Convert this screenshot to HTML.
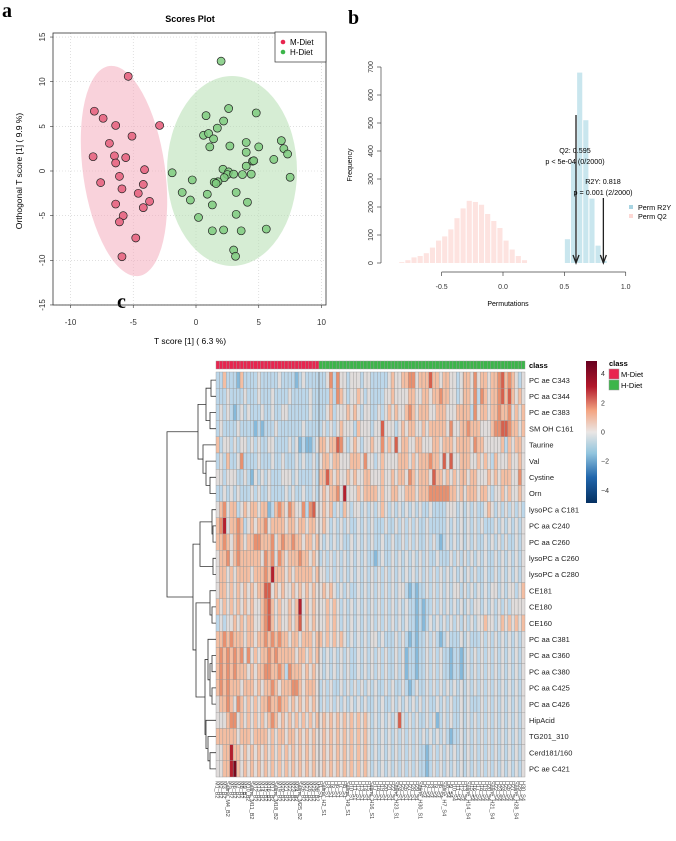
<!DOCTYPE html>
<html><head><meta charset="utf-8"><style>
body{margin:0;background:#fff;}
svg{display:block;font-family:"Liberation Sans",sans-serif;}
.lbl{font-family:"Liberation Serif",serif;font-weight:bold;font-size:20px;}
</style></head><body>
<svg id="fig" width="676" height="841" viewBox="0 0 676 841" xmlns="http://www.w3.org/2000/svg">
<text class="lbl" x="2" y="17">a</text>
<text class="lbl" x="348" y="24">b</text>
<text class="lbl" x="117" y="308">c</text>
<g id="pa"></g>
<g id="pb"></g>
<g id="pc"></g>
</svg>
<script>
// ---------- Panel a data ----------
const mX=[-5.4,-8.1,-7.4,-6.4,-2.9,-5.1,-6.9,-8.2,-6.5,-5.6,-6.4,-4.1,-6.1,-7.6,-4.2,-5.9,-4.6,-3.7,-6.4,-4.2,-5.8,-6.1,-4.8,-5.9];
const mY=[10.6,6.7,5.9,5.1,5.1,3.9,3.1,1.6,1.7,1.5,0.9,0.15,-0.6,-1.3,-1.5,-2.0,-2.5,-3.4,-3.7,-4.1,-5.0,-5.7,-7.5,-9.6];
const hX=[2.0,2.6,4.8,0.8,2.2,1.7,0.6,1.0,1.4,4.0,6.8,1.1,2.7,5.0,7.0,4.0,7.3,6.2,4.5,4.6,4.0,2.15,-1.9,2.6,2.5,3.0,3.7,4.4,7.5,2.25,-0.3,1.75,1.45,1.6,-1.1,3.2,0.9,-0.45,4.1,1.3,3.2,0.2,1.3,2.2,3.6,5.6,3.0,3.15];
const hY=[12.3,7.0,6.5,6.2,5.6,4.8,4.0,4.2,3.6,3.2,3.4,2.7,2.8,2.7,2.5,2.1,1.9,1.3,1.1,1.15,0.55,0.2,-0.2,-0.1,-0.4,-0.35,-0.4,-0.35,-0.7,-0.75,-1.0,-1.2,-1.25,-1.4,-2.4,-2.4,-2.6,-3.25,-3.5,-3.8,-4.85,-5.2,-6.7,-6.6,-6.7,-6.5,-8.85,-9.55];
const aTicks=[-15,-10,-5,0,5,10,15];
// ---------- Panel b data ----------
const q2Bins=[-0.85,-0.8,-0.75,-0.7,-0.65,-0.6,-0.55,-0.5,-0.45,-0.4,-0.35,-0.3,-0.25,-0.2,-0.15,-0.1,-0.05,0.0,0.05,0.1,0.15];
const q2Counts=[3,10,20,25,35,55,80,95,120,160,195,222,218,208,175,150,125,80,48,25,10];
const r2Bins=[0.5,0.55,0.6,0.65,0.7,0.75,0.8];
const r2Counts=[85,360,680,510,230,62,8];
const bXTicks=[-0.5,0.0,0.5,1.0];
const bYTicks=[0,100,200,300,400,500,600,700];
// ---------- Panel c data ----------
const rowNames=["PC ae C343","PC aa C344","PC ae C383","SM OH C161","Taurine","Val","Cystine","Orn","lysoPC a C181","PC aa C240","PC aa C260","lysoPC a C260","lysoPC a C280","CE181","CE180","CE160","PC aa C381","PC aa C360","PC aa C380","PC aa C425","PC aa C426","HipAcid","TG201_310","Cerd181/160","PC ae C421"];
const heat=[
"4464443644 4454444454 4443454444 4457475545 5545544444 5655667756 6686656655 4566575665 6678676545",
"4445444454 4454445444 4544444544 4446476545 5654544445 5655556655 6656676655 4566574765 6678686565",
"4545434545 4445445445 5444444544 4456455565 6545544545 6565567656 6655666555 6666475665 6676675656",
"4544445444 4343444544 4444454444 4545456555 4655545585 5545656655 6566666575 5667666555 6778876656",
"6455454554 5454455444 4545343345 6656687545 6545565575 6585665566 5556656665 6666576655 5556465665",
"4546445744 4454445445 4445454454 5665665556 6657554565 5556665656 6676658585 5666556565 4655565565",
"5545554454 3545454445 5545444454 6686565565 6556655565 5656657656 6658665656 5665665556 5656665575",
"4454545444 5454454444 5454454454 5656675955 5656666565 5665566656 6677777766 5656665665 4556565565",
"5675664565 6656634676 5765574785 5656454654 5545454565 4545454545 4454444555 4545454456 5454545454",
"6795667645 6566756666 5665665665 5654545454 4545454445 4454545454 4544444545 4545454544 4545454545",
"6676567656 6776667567 6676656656 5454545445 4545454454 4544545454 4545434545 4545454454 5454544545",
"5667567666 6665767576 5666766565 4545454545 4545443454 4545454545 4544544454 5454545454 4545454545",
"5665656666 5666769666 5656666656 5545454545 4545454545 4545454545 4545454545 4545454454 4545454545",
"5665656565 6566885656 5565656565 5656545454 4545454545 4545543434 4545454545 5454545454 5545455456",
"6565656565 6556786565 5656956565 5565654545 4545454545 4545454434 3445454545 4545455454 5454545555",
"4545565656 6556786565 5656856565 5565654545 4545454545 4545454434 3454545454 5454545565 5456565656",
"6676766656 6566767676 6566566656 6565656545 4545455454 4454543434 4545434544 4545444545 4545454545",
"6767676757 5656676766 6665665656 5454545454 4545454545 4454534434 4545454434 4345454545 4545454545",
"6767676665 6566776676 4766656565 5454545454 4545454545 4454534434 4545454434 4345454545 4545454545",
"6767666566 6565667656 6677656665 4545445454 5454545445 4544543454 4545454545 4545454545 4545454545",
"5667657656 5656676676 6565656565 4545454545 4545445454 4545454545 4544545454 4545444545 4545454545",
"5556775656 5656567656 5656565656 5656565656 5656545454 5458545454 4545345454 4545454545 4545454545",
"6666665666 5666656566 5665656565 5656565656 5656545454 5454545454 5454545434 4545454545 4545454545",
"5566966565 6565656565 6565656565 5656565656 5656545454 5454545454 4345454545 4545454545 4545454545",
"5566906565 6565656565 6565656565 5656565656 5656545454 5454545454 4345454545 4545454545 4545454545"
];
const nM=30, nH=60;
const cbTicks=[4,2,0,-2,-4];

const NS="http://www.w3.org/2000/svg";
function mk(parent,tag,attrs,text){const e=document.createElementNS(NS,tag);for(const k in attrs)e.setAttribute(k,attrs[k]);if(text!==undefined)e.textContent=text;parent.appendChild(e);return e;}

// ===== Panel a =====
(function(){
const g=document.getElementById('pa');
const sx=v=>196+v*12.55, sy=v=>171-v*8.93;
mk(g,'text',{x:190,y:22,'text-anchor':'middle','font-size':9,'font-weight':'bold'},'Scores Plot');
aTicks.forEach(t=>{
 if(Math.abs(t)<=10){const l=mk(g,'line',{x1:sx(t),x2:sx(t),y1:33,y2:305,stroke:'#ccc','stroke-dasharray':'1,2','stroke-width':0.6});
 
 const tl=mk(g,'text',{x:sx(t),y:325,'text-anchor':'middle','font-size':8,fill:'#333'},String(t));
 }
 const l2=mk(g,'line',{x1:53,x2:326,y1:sy(t),y2:sy(t),stroke:'#ccc','stroke-dasharray':'1,2','stroke-width':0.6});
 
 const yl=mk(g,'text',{x:0,y:0,transform:`translate(45,${sy(t)}) rotate(-90)`,'text-anchor':'middle','font-size':8,fill:'#333'},String(t));
 
 mk(g,'line',{x1:50,x2:53,y1:sy(t),y2:sy(t),stroke:'#333','stroke-width':0.6});
 if(Math.abs(t)<=10)mk(g,'line',{x1:sx(t),x2:sx(t),y1:305,y2:308,stroke:'#333','stroke-width':0.6});
});
const e1=mk(g,'ellipse',{cx:124,cy:171,rx:41,ry:106,fill:'#f4a6b7','fill-opacity':0.5,transform:'rotate(-8 124 171)'});

const e2=mk(g,'ellipse',{cx:232,cy:171,rx:65,ry:95,fill:'#b5dfb0','fill-opacity':0.55});

mX.forEach((v,i)=>{const c=mk(g,'circle',{cx:sx(v),cy:sy(mY[i]),r:4,fill:'#e8708a',stroke:'#222','stroke-width':0.7});
 });
hX.forEach((v,i)=>{const c=mk(g,'circle',{cx:sx(v),cy:sy(hY[i]),r:4,fill:'#7fcb7f','fill-opacity':0.85,stroke:'#222','stroke-width':0.7});
 });
mk(g,'rect',{x:53,y:33,width:273,height:272,fill:'none',stroke:'#333','stroke-width':0.8});
const lg=mk(g,'g',{});
mk(lg,'rect',{x:275,y:32,width:51,height:30,fill:'#fff',stroke:'#333','stroke-width':0.7});
mk(lg,'circle',{cx:283,cy:42,r:2.3,fill:'#e8254f'});
mk(lg,'text',{x:290,y:45,'font-size':8},'M-Diet');
mk(lg,'circle',{cx:283,cy:52,r:2.3,fill:'#3cb54a'});
mk(lg,'text',{x:290,y:55,'font-size':8},'H-Diet');
const xt=mk(g,'text',{x:190,y:344,'text-anchor':'middle','font-size':8.5},'T score [1] ( 6.3 %)');

const yt=mk(g,'text',{x:0,y:0,transform:'translate(22,171) rotate(-90)','text-anchor':'middle','font-size':8.5},'Orthogonal T score [1] ( 9.9 %)');

})();

// ===== Panel b =====
(function(){
const g=document.getElementById('pb');
const sx=v=>503+v*122.7, sy=v=>263-v*0.28, bw=0.05;
q2Counts.forEach((c,i)=>{const r=mk(g,'rect',{x:sx(q2Bins[i])+0.5,y:sy(c),width:bw*122.7-1,height:c*0.28,fill:'#fde3e0'});
 });
r2Counts.forEach((c,i)=>{const r=mk(g,'rect',{x:sx(r2Bins[i])+0.5,y:sy(c),width:bw*122.7-1,height:c*0.28,fill:'#c9e6ee'});
 });
mk(g,'line',{x1:381,x2:381,y1:sy(0),y2:sy(700),stroke:'#444','stroke-width':0.7});
bYTicks.forEach(t=>{mk(g,'line',{x1:377,x2:381,y1:sy(t),y2:sy(t),stroke:'#444','stroke-width':0.7});
 const tl=mk(g,'text',{x:0,y:0,transform:`translate(373,${sy(t)}) rotate(-90)`,'text-anchor':'middle','font-size':7,fill:'#333'},String(t));
 });
mk(g,'line',{x1:sx(-0.5),x2:sx(1.0),y1:272,y2:272,stroke:'#444','stroke-width':0.7});
bXTicks.forEach(t=>{mk(g,'line',{x1:sx(t),x2:sx(t),y1:272,y2:276,stroke:'#444','stroke-width':0.7});
 const tl=mk(g,'text',{x:sx(t),y:289,'text-anchor':'middle','font-size':7,fill:'#333'},t.toFixed(1));
 });
const xt=mk(g,'text',{x:508,y:306,'text-anchor':'middle','font-size':7},'Permutations');

const yt=mk(g,'text',{x:0,y:0,transform:'translate(352,165) rotate(-90)','text-anchor':'middle','font-size':7},'Frequency');

function arrow(v,y1,name){const a=mk(g,'g',{});
 mk(a,'line',{x1:sx(v),x2:sx(v),y1:y1,y2:262,stroke:'#222','stroke-width':1.3});
 mk(a,'path',{d:`M${sx(v)-3},255 L${sx(v)},263 L${sx(v)+3},255`,fill:'none',stroke:'#222','stroke-width':1.3});}
arrow(0.595,115,'q2-arrow');arrow(0.818,198,'r2y-arrow');
mk(g,'text',{x:575,y:153,'text-anchor':'middle','font-size':7.2},'Q2: 0.595');
mk(g,'text',{x:575,y:164,'text-anchor':'middle','font-size':7.2},'p < 5e-04 (0/2000)');
mk(g,'text',{x:603,y:184,'text-anchor':'middle','font-size':7.2},'R2Y: 0.818');
mk(g,'text',{x:603,y:195,'text-anchor':'middle','font-size':7.2},'p = 0.001 (2/2000)');
const lg=mk(g,'g',{});
mk(lg,'rect',{x:629,y:205,width:4,height:4,fill:'#a8d4e2'});
mk(lg,'text',{x:638,y:210,'font-size':7.2},'Perm R2Y');
mk(lg,'rect',{x:629,y:214,width:4,height:4,fill:'#fdd8d4'});
mk(lg,'text',{x:638,y:219,'font-size':7.2},'Perm Q2');
})();

// ===== Panel c =====
(function(){
const g=document.getElementById('pc');
const rows=rowNames.length;
const x0=216, x1=525, y0=372, rh=405/rows, n=nM+nH, cw=(x1-x0)/n;
const pal={'1':'#2f6fa6','2':'#5c9cc9','3':'#86b9da','4':'#bcd7ea','5':'#e0dcdb','6':'#f4bea2','7':'#e8906f','8':'#d6604d','9':'#b4202e','0':'#7a0a1e'};
for(let j=0;j<n;j++){const r=mk(g,'rect',{x:x0+j*cw,y:361,width:cw,height:8,fill:j<nM?'#e8254f':'#3cb54a',stroke:'#999','stroke-width':0.4});
 }
mk(g,'text',{x:529,y:368,'font-size':7.5,'font-weight':'bold'},'class');
for(let i=0;i<rows;i++){
 const s=heat[i].replace(/ /g,'').padEnd(n,'5');
 for(let j=0;j<n;j++){const r=mk(g,'rect',{x:x0+j*cw,y:y0+i*rh,width:cw,height:rh,fill:pal[s[j]]||pal['5'],stroke:'#9a9a9a','stroke-width':0.4});
  }
 const t=mk(g,'text',{x:529,y:y0+i*rh+rh/2+2.7,'font-size':7.5,fill:'#222'},rowNames[i]);
 
}
mk(g,'line',{x1:x0+nM*cw,x2:x0+nM*cw,y1:y0,y2:y0+rows*rh,stroke:'#777','stroke-width':0.8});
mk(g,'line',{x1:x0+72*cw,x2:x0+72*cw,y1:y0,y2:y0+rows*rh,stroke:'#888','stroke-width':0.7});
const N=(x,a,b)=>({x:x,c:[a,b]});
const top=N(198,N(206,N(211,0,1),N(210,2,3)),N(203,4,N(206,5,N(210,6,7))));
const lyso=N(200,N(212,8,N(213,9,10)),N(213,11,12));
const ce=N(210,13,N(212,14,15));
const pc=N(205,N(208,16,N(210,N(212,17,18),N(212,19,20))),N(206,21,N(208,22,N(210,23,24))));
const root=N(167,top,N(193,lyso,N(196,ce,pc)));
const dg=mk(g,'g',{stroke:'#333','stroke-width':0.8,fill:'none'});

function draw(nd){if(typeof nd==='number')return{x:x0,y:y0+nd*rh+rh/2};
 const a=draw(nd.c[0]),b=draw(nd.c[1]);
 mk(dg,'path',{d:`M${a.x},${a.y} H${nd.x} V${b.y} H${b.x}`});
 return{x:nd.x,y:(a.y+b.y)/2};}
draw(root);
const tags=['B2','B2','S1','S1','S4','S4'];
for(let j=0;j<n;j++){const tg=tags[Math.floor(j/15)];const lab=(j%7===3?'Saline_':'')+(j<nM?'M':'H')+(j%30+1)+'_'+tg;
 const t=mk(g,'text',{x:0,y:0,transform:`translate(${x0+j*cw+cw/2-2},${y0+rows*rh+4}) rotate(90)`,'font-size':5.5,fill:'#444'},lab);
 }
const cb=mk(g,'g',{});
const grad=mk(cb,'linearGradient',{id:'gr',x1:0,y1:0,x2:0,y2:1});
[['0','#67001f'],['0.18','#b2182b'],['0.35','#f4a582'],['0.5','#eae6e4'],['0.65','#92c5de'],['0.82','#2166ac'],['1','#053061']].forEach(s=>mk(grad,'stop',{offset:s[0],'stop-color':s[1]}));
const cbTop=361,cbBot=503,sv=v=>432-v*14.6;
mk(cb,'rect',{x:586,y:cbTop,width:11,height:cbBot-cbTop,fill:'url(#gr)'});
cbTicks.forEach(t=>{const tl=mk(cb,'text',{x:601,y:sv(t)+2.5,'font-size':7,fill:'#333'},t<0?'\u2212'+(-t):String(t));
 });
const cl=mk(g,'g',{});
mk(cl,'text',{x:609,y:366,'font-size':7.5,'font-weight':'bold'},'class');
mk(cl,'rect',{x:609,y:369,width:10,height:10,fill:'#e8254f',stroke:'#999','stroke-width':0.5});
mk(cl,'rect',{x:609,y:380,width:10,height:10,fill:'#3cb54a',stroke:'#999','stroke-width':0.5});
mk(cl,'text',{x:621,y:377,'font-size':7.5},'M-Diet');
mk(cl,'text',{x:621,y:388,'font-size':7.5},'H-Diet');
})();
</script>
</body></html>
